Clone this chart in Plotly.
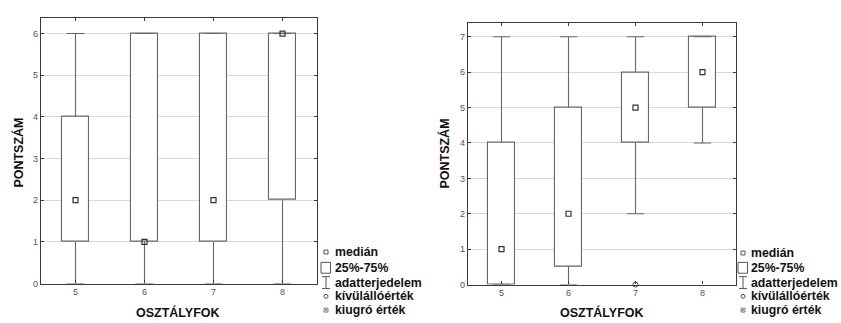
import plotly.graph_objects as go

# ---- data ----
grades = [5, 6, 7, 8]

# left chart
left_min = [0, 0, 0, 0]
left_q1 = [1, 1, 1, 2]
left_median = [2, 1, 2, 6]
left_q3 = [4, 6, 6, 6]
left_max = [6, 6, 6, 6]

# right chart
right_min = [0, 0, 2, 4]
right_q1 = [0, 0.5, 4, 5]
right_median = [1, 2, 5, 6]
right_q3 = [4, 5, 6, 7]
right_max = [7, 7, 7, 7]
right_outlier_x = [7]
right_outlier_y = [0]

legend_labels = ["medián", "25%-75%", "adatterjedelem", "kívülállóérték", "kiugró érték"]
x_title = "OSZTÁLYFOK"
y_title = "PONTSZÁM"

W, H = 841, 323
BOX_LINE = "#666666"
FRAME = "#3a3a3a"
FONT = "Liberation Sans, Arial, sans-serif"
BOX_W = 0.39
CAP = 0.13

fig = go.Figure()


def add_panel(xa, ya, lo, q1, med, q3, hi):
    fig.add_trace(go.Bar(
        x=grades, y=[b - a for a, b in zip(q1, q3)], base=q1, width=BOX_W,
        marker=dict(color="white", line=dict(color=BOX_LINE, width=1.1)),
        xaxis=xa, yaxis=ya, showlegend=False, hoverinfo="skip"))
    wx, wy = [], []
    for g, l, a, b, h in zip(grades, lo, q1, q3, hi):
        wx += [g, g, None, g, g, None, g - CAP, g + CAP, None, g - CAP, g + CAP, None]
        wy += [l, a, None, b, h, None, l, l, None, h, h, None]
    fig.add_trace(go.Scatter(
        x=wx, y=wy, mode="lines", line=dict(color=BOX_LINE, width=1.1),
        xaxis=xa, yaxis=ya, showlegend=False, hoverinfo="skip", connectgaps=False))
    fig.add_trace(go.Scatter(
        x=grades, y=med, mode="markers",
        marker=dict(symbol="square-open", size=5, color="#333333", line=dict(width=1.2)),
        xaxis=xa, yaxis=ya, showlegend=False, cliponaxis=False))


add_panel("x", "y", left_min, left_q1, left_median, left_q3, left_max)
add_panel("x2", "y2", right_min, right_q1, right_median, right_q3, right_max)
fig.add_trace(go.Scatter(
    x=right_outlier_x, y=right_outlier_y, mode="markers",
    marker=dict(symbol="circle-open", size=5, color="#444444", line=dict(width=1)),
    xaxis="x2", yaxis="y2", showlegend=False, cliponaxis=False))


def px_x(v):
    return v / W


def px_y(v):
    return 1 - v / H


axis_common = dict(
    showline=True, linecolor=FRAME, linewidth=1.2, mirror="ticks",
    ticks="inside", ticklen=3, tickcolor=FRAME,
    tickfont=dict(family=FONT, size=9, color="#555555"),
    zeroline=False,
)

lx0, lx1, ly0, ly1 = 41, 317, 18, 288
rx0, rx1, ry0, ry1 = 468, 736, 23, 289

fig.update_layout(
    width=W, height=H, margin=dict(l=0, r=0, t=0, b=0),
    paper_bgcolor="white", plot_bgcolor="white", bargap=0,
    xaxis=dict(domain=[px_x(lx0), px_x(lx1)], range=[4.5, 8.5], tickvals=grades,
               showgrid=False, anchor="y", **axis_common),
    yaxis=dict(domain=[px_y(ly1), px_y(ly0)], range=[0, 6.38], dtick=1,
               showgrid=True, gridcolor="#d9d9d9", gridwidth=1, anchor="x", **axis_common),
    xaxis2=dict(domain=[px_x(rx0), px_x(rx1)], range=[4.5, 8.5], tickvals=grades,
                showgrid=False, anchor="y2", **axis_common),
    yaxis2=dict(domain=[px_y(ry1), px_y(ry0)], range=[0, 7.4], dtick=1,
                showgrid=True, gridcolor="#d9d9d9", gridwidth=1, anchor="x2", **axis_common),
)

annotations = []
shapes = []

title_font = dict(family=FONT, size=12.5, color="#111111")
for cx, cy in [(178, 317), (602, 317)]:
    annotations.append(dict(x=px_x(cx), y=px_y(cy), xref="paper", yref="paper",
                            text="<b>%s</b>" % x_title, showarrow=False, font=title_font,
                            xanchor="center", yanchor="middle"))
for cx, cy in [(19, 155), (445, 156)]:
    annotations.append(dict(x=px_x(cx), y=px_y(cy), xref="paper", yref="paper",
                            text="<b>%s</b>" % y_title, showarrow=False, font=title_font,
                            textangle=-90, xanchor="center", yanchor="middle"))

legend_font = dict(family=FONT, size=12.3, color="#111111")
for sx, tx, rows in [(326, 334, [256, 272, 287, 301, 315]),
                     (743, 750, [257, 272, 287, 301, 315])]:
    for lab, ry in zip(legend_labels, rows):
        annotations.append(dict(x=px_x(tx), y=px_y(ry), xref="paper", yref="paper",
                                text="<b>%s</b>" % lab, showarrow=False, font=legend_font,
                                xanchor="left", yanchor="middle", borderpad=0))
    col = "#555555"
    r = rows[0]
    shapes.append(dict(type="rect", xref="paper", yref="paper",
                       x0=px_x(sx - 2), x1=px_x(sx + 2), y0=px_y(r + 2), y1=px_y(r - 2),
                       line=dict(color=col, width=1)))
    r = rows[1]
    shapes.append(dict(type="rect", xref="paper", yref="paper",
                       x0=px_x(sx - 5), x1=px_x(sx + 4.5), y0=px_y(r + 5.5), y1=px_y(r - 5.5),
                       line=dict(color=col, width=1)))
    r = rows[2]
    shapes.append(dict(type="line", xref="paper", yref="paper",
                       x0=px_x(sx), x1=px_x(sx), y0=px_y(r + 6), y1=px_y(r - 6),
                       line=dict(color=col, width=1)))
    for yy in (r - 6, r + 6):
        shapes.append(dict(type="line", xref="paper", yref="paper",
                           x0=px_x(sx - 4), x1=px_x(sx + 4), y0=px_y(yy), y1=px_y(yy),
                           line=dict(color=col, width=1)))
    r = rows[3]
    shapes.append(dict(type="circle", xref="paper", yref="paper",
                       x0=px_x(sx - 2), x1=px_x(sx + 2), y0=px_y(r + 2), y1=px_y(r - 2),
                       line=dict(color=col, width=1)))
    r = rows[4]
    shapes.append(dict(type="rect", xref="paper", yref="paper",
                       x0=px_x(sx - 2), x1=px_x(sx + 2), y0=px_y(r + 2), y1=px_y(r - 2),
                       line=dict(color="#888888", width=1)))
    for dx in (-1, 1):
        shapes.append(dict(type="line", xref="paper", yref="paper",
                           x0=px_x(sx - 2), x1=px_x(sx + 2),
                           y0=px_y(r - 2 * dx), y1=px_y(r + 2 * dx),
                           line=dict(color="#888888", width=1)))

fig.update_layout(annotations=annotations, shapes=shapes)
fig.write_html("out.html")
